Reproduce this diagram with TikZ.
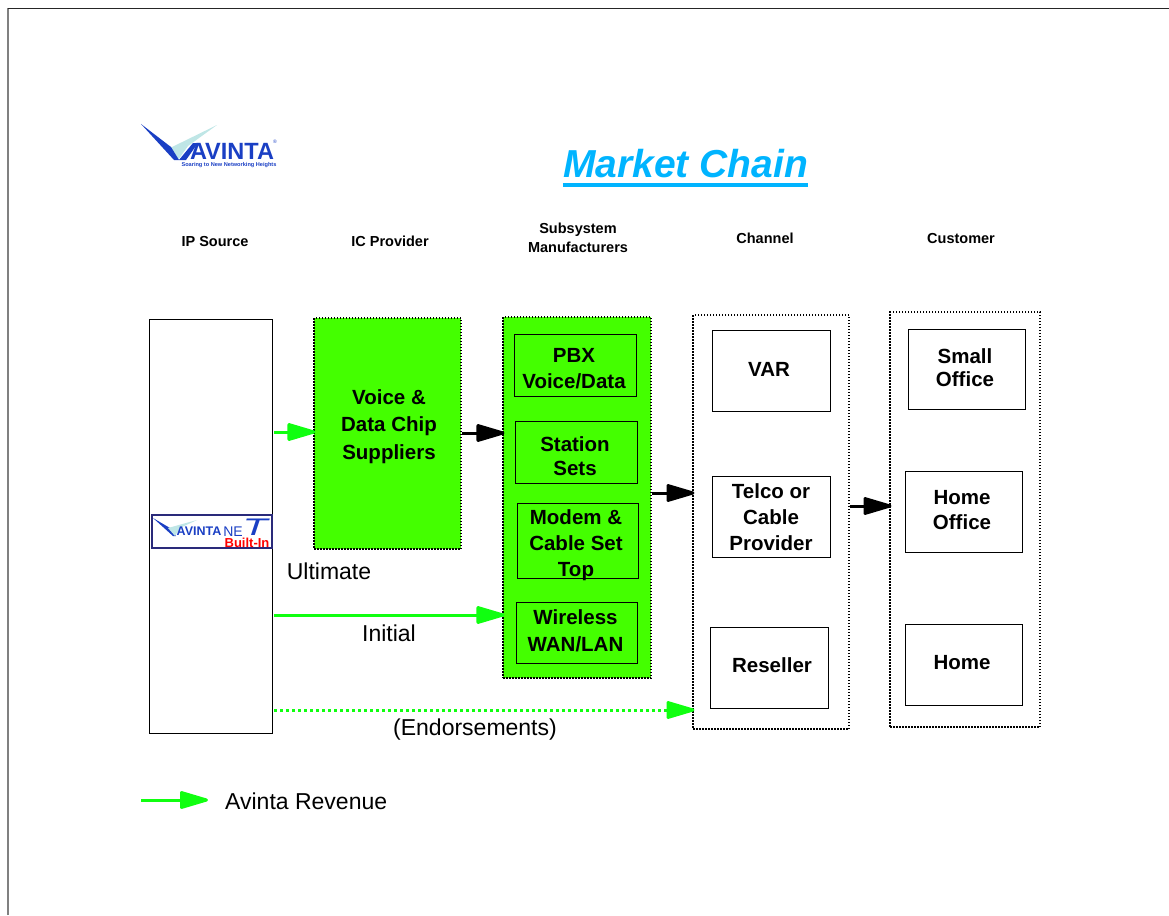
\documentclass[tikz,border=0pt]{standalone}
\usepackage{fontspec}
\setmainfont{Liberation Sans}
\usetikzlibrary{arrows.meta}

\definecolor{chipgreen}{HTML}{44FF00}
\definecolor{revgreen}{HTML}{10FF10}
\definecolor{titleblue}{HTML}{00B4FF}
\definecolor{logoblue}{HTML}{1A3FC4}
\definecolor{logopale}{HTML}{BFE6E6}
\definecolor{logonavy}{HTML}{2A2A7A}

\begin{document}
\begin{tikzpicture}[x=1pt,y=-1pt,
                    header/.style={font=\fontsize{14.5}{19}\selectfont\bfseries,align=center},
                    side label/.style={font=\fontsize{23}{27}\selectfont},
                    lines/.style={font=\fontsize{20.5}{#1}\selectfont\bfseries,align=center,inner sep=0pt},
                    box/.style={draw,line width=0.8pt,lines=26},
                    group/.style={box,line width=1.1pt,dash pattern=on 1.5pt off 1.5pt},
                    chip group/.style={group,fill=chipgreen},
                    black arrow/.style={-{Triangle[round,length=32pt,width=18pt]},line width=3pt,shorten >=-2pt},
                    revenue/.style={-{Triangle[round,length=32pt,width=18pt]},line width=3pt,shorten >=-2pt,revgreen}]

    \useasboundingbox (0,0) rectangle (1169,915);

    % Define frame
    \coordinate (corner) at (8,8.5);
    \coordinate (frameleft) at (8,915);
    \coordinate (frameright) at (1169,8.5);
    \draw[line width=2pt,gray] (frameleft) -- (corner);
    \draw[line width=1pt,black!85] (corner) -- (frameright);

    % Define logo
    \fill[logopale] (217,125) -- (170,148) -- (178,160) -- (188,146) -- cycle;
    \fill[logoblue] (141,124) -- (171,147) -- (179,160) -- (174,160) -- cycle;
    \fill[logoblue] (179,160) -- (186,160) -- (198,143) -- (193,143) -- cycle;
    \node[inner sep=0pt,text=logoblue,font=\fontsize{23.5}{24}\selectfont\bfseries] (logoname) at (232,151.5) {AVINTA};
    \node[inner sep=0pt,text=logoblue,font=\fontsize{5.6}{6}\selectfont\bfseries] (logotag) at (229,165.5) {Soaring to New Networking Heights};
    \node[inner sep=0pt,text=logoblue,font=\fontsize{5}{5}\selectfont] (logomark) at (275,142) {®};

    % Define title
    \node[inner sep=0pt,text=titleblue,font=\fontsize{39}{42}\selectfont\bfseries\itshape] (title) at (685.5,163.5) {Market Chain};
    \draw[titleblue,line width=4.5pt] ([yshift=-7.5pt]title.base west) -- ([yshift=-7.5pt]title.base east);

    % Define headers
    \node[header] (h1) at (215,241.5) {IP Source};
    \node[header] (h2) at (390,241) {IC Provider};
    \node[header] (h3) at (578,238) {Subsystem\\Manufacturers};
    \node[header] (h4) at (765,238) {Channel};
    \node[header] (h5) at (961,238.5) {Customer};

    % Define columns
    \node[box,minimum width=123pt,minimum height=414pt] (ipsource) at (210.5,526) {};
    \node[chip group,minimum width=147pt,minimum height=231pt] (chips) at (387.5,433.5) {};
    \node[lines=27.5] (chipstext) at (389,426.5) {Voice \&\\Data Chip\\Suppliers};
    \node[chip group,minimum width=148pt,minimum height=361pt] (subsystem) at (577,497.5) {};
    \node[group,minimum width=156pt,minimum height=414pt] (channel) at (771,522) {};
    \node[group,minimum width=150pt,minimum height=415pt] (customer) at (965,519.5) {};

    % Define subsystem boxes
    \node[box,minimum width=122pt,minimum height=62pt] (pbx) at (575,365) {};
    \node[lines=26] (pbxtext) at (574,369) {PBX\\Voice/Data};
    \node[box,minimum width=122pt,minimum height=62pt] (station) at (576,452) {};
    \node[lines=24] (stationtext) at (575,456) {Station\\Sets};
    \node[box,minimum width=121pt,minimum height=75pt] (modem) at (577.5,540.5) {};
    \node[lines=26] (modemtext) at (576,545) {Modem \&\\Cable Set\\Top};
    \node[box,minimum width=121pt,minimum height=61pt] (wireless) at (576.5,632.5) {};
    \node[lines=27] (wirelesstext) at (575.5,630.5) {Wireless\\WAN/LAN};

    % Define channel boxes
    \node[box,minimum width=118pt,minimum height=81pt] (var) at (771,370.5) {};
    \node[lines=26] (vartext) at (769,369) {VAR};
    \node[box,minimum width=118pt,minimum height=81pt] (telco) at (771,516.5) {};
    \node[lines=26] (telcotext) at (771,517.5) {Telco or\\Cable\\Provider};
    \node[box,minimum width=118pt,minimum height=81pt] (reseller) at (769,667.5) {};
    \node[lines=26] (resellertext) at (772,665) {Reseller};

    % Define customer boxes
    \node[box,minimum width=117pt,minimum height=80pt] (small) at (966.5,369) {};
    \node[lines=23] (smalltext) at (965,367.5) {Small\\Office};
    \node[box,minimum width=117pt,minimum height=81pt] (homeoffice) at (963.5,511.5) {};
    \node[lines=25] (homeofficetext) at (962,510.5) {Home\\Office};
    \node[box,minimum width=117pt,minimum height=81pt] (home) at (963.5,664.5) {};
    \node[lines=26] (hometext) at (962,663) {Home};

    % Define built-in logo
    \node[draw=logonavy,fill=white,line width=2pt,inner sep=0pt,minimum width=120pt,minimum height=33pt] (builtin) at (211.5,531) {};
    \fill[logoblue] (153,518) -- (170,528) -- (176,536) -- (173,536) -- cycle;
    \fill[logopale] (197,520) -- (168,528) -- (175,536) -- (180,528) -- cycle;
    \node[inner sep=0pt,text=logoblue,font=\fontsize{12.5}{13}\selectfont\bfseries] (avintasmall) at (199,531) {AVINTA};
    \node[inner sep=0pt,text=logoblue,font=\fontsize{14}{14}\selectfont] (ne) at (233,531.5) {NE};
    \node[inner sep=0pt,text=logoblue,xscale=1.7,transform shape,font=\fontsize{24}{24}\selectfont\itshape] (tee) at (255,527) {T};
    \node[inner sep=0pt,text=red,font=\fontsize{13}{13}\selectfont\bfseries] (built) at (247,542.5) {Built-In};

    % Define arrow ends
    \coordinate (ultimate) at (274,432);
    \coordinate (initial) at (274,615);
    \coordinate (endorse) at (274,710);
    \coordinate (keystart) at (141,800);
    \coordinate (keyend) at (206,800);

    % Draw edges
    \draw[revenue] (ultimate) -- (chips.west |- ultimate);
    \draw[revenue] (initial) -- (subsystem.west |- initial);
    \draw[revenue,dash pattern=on 3pt off 3pt] (endorse) -- (channel.west |- endorse);
    \draw[revenue] (keystart) -- (keyend);
    \draw[black arrow] (chips.east |- 0,433) -- (subsystem.west |- 0,433);
    \draw[black arrow] (subsystem.east |- 0,493) -- (channel.west |- 0,493);
    \draw[black arrow] (channel.east |- 0,506) -- (customer.west |- 0,506);

    % Draw labels
    \node[side label] (lultimate) at (329,571) {Ultimate};
    \node[side label] (linitial) at (389,633) {Initial};
    \node[side label] (lendorse) at (475,729.5) {(Endorsements)};
    \node[side label,anchor=west,inner sep=0pt] (lkey) at (225,801) {Avinta Revenue};

\end{tikzpicture}
\end{document}
